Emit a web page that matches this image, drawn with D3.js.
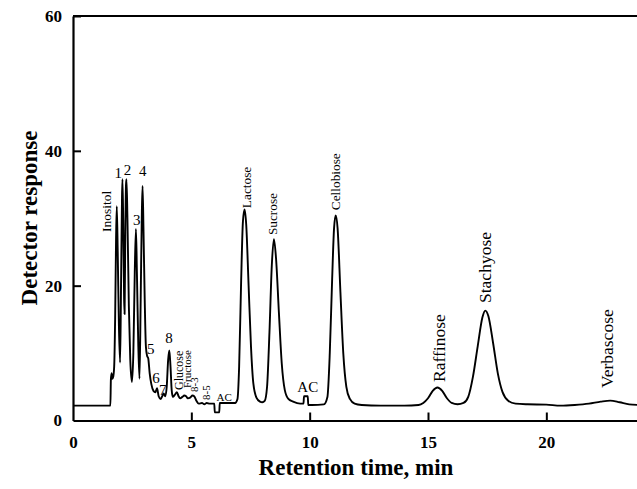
<!DOCTYPE html>
<html>
<head>
<meta charset="utf-8">
<script src="https://cdn.jsdelivr.net/npm/d3@7"></script>
<style>
  body { margin: 0; background: #fff; }
  svg text { font-family: "Liberation Serif", "Times New Roman", serif; fill: #000; }
</style>
</head>
<body>
<div id="chart"></div>
<script>
// Size of the drawing and the plot frame
const w = 637;
const h = 489;
const plotLeft = 73;
const plotTop = 16;
const plotBottom = 420.5;
const plotRight = 641; // the frame runs off the right edge of the picture

// Chromatogram trace: retention time (min) and detector response
const times = [
  0, 1.58, 1.6, 1.63, 1.66, 1.7, 1.74, 1.78, 1.82, 1.85, 1.89, 1.94, 1.99,
  2.03, 2.07, 2.09, 2.12, 2.16, 2.18, 2.21, 2.24, 2.26, 2.3, 2.36, 2.42, 2.49,
  2.55, 2.61, 2.66, 2.7, 2.76, 2.81, 2.86, 2.91, 2.94, 2.98, 3.03, 3.08, 3.13,
  3.18, 3.24, 3.31, 3.4, 3.48, 3.55, 3.62, 3.7, 3.77, 3.83, 3.9, 3.96, 4.02,
  4.07, 4.12, 4.17, 4.22, 4.3, 4.39, 4.46, 4.53, 4.62, 4.7, 4.78, 4.85, 4.95,
  5.05, 5.12, 5.22, 5.31, 5.45, 5.55, 5.65, 5.78, 5.95, 5.97, 5.99, 6.18, 6.2,
  6.4, 6.85, 6.95, 7.02, 7.1, 7.18, 7.25, 7.32, 7.42, 7.52, 7.62, 7.75, 7.9,
  8.0, 8.1, 8.2, 8.3, 8.4, 8.49, 8.58, 8.7, 8.82, 8.95, 9.1, 9.3, 9.6, 9.74,
  9.76, 9.92, 9.94, 10.1, 10.6, 10.75, 10.85, 10.95, 11.03, 11.1, 11.18, 11.3,
  11.42, 11.55, 11.7, 11.9, 12.2, 13, 14, 14.6, 14.8, 15.0, 15.2, 15.4, 15.6,
  15.8, 16.0, 16.25, 16.5, 16.7, 16.9, 17.1, 17.3, 17.42, 17.55, 17.75, 17.95,
  18.15, 18.4, 18.7, 19.2, 20, 20.6, 21.2, 21.8, 22.3, 22.7, 23.1, 23.5, 24
];
const response = [
  2.2, 2.2, 6.0, 7.0, 6.2, 6.5, 8, 15, 27, 31.8, 25, 14, 8.6,
  20, 33, 35.8, 30, 18, 15.8, 28, 35, 35.8, 30, 17, 9, 5.7,
  10, 22, 28.4, 22, 11, 6.2, 18, 31, 34.8, 28, 18, 11, 9.6,
  9.2, 7, 5.4, 4.4, 4.2, 4.8, 3.6, 3.2, 3.6, 4.0, 3.6, 5, 9,
  10.4, 8, 4.5, 3.5, 3.8, 4.2, 3.6, 3.3, 3.5, 3.7, 3.6, 3.3, 3.4,
  3.7, 3.6, 2.9, 2.5, 2.6, 2.4, 2.6, 2.5, 2.5, 2.5, 1.2, 1.2, 2.6,
  2.6, 2.6, 3.2, 8, 20, 29.5, 31.3, 29, 20, 11, 5.5, 3.4, 2.8,
  2.7, 2.9, 5, 13, 23, 26.9, 24, 16, 8.5, 4.5, 3.2, 2.8, 2.5, 2.5,
  3.6, 3.6, 2.3, 2.3, 2.4, 3.5, 10, 21, 28.5, 30.4, 28.5, 19,
  10, 5, 3.2, 2.5, 2.3, 2.2, 2.2, 2.3, 2.6, 3.3, 4.4, 4.9, 4.4,
  3.3, 2.6, 2.4, 2.6, 3.5, 6.5, 11, 15.3, 16.3, 15.5, 11.5, 7,
  4.2, 2.9, 2.5, 2.4, 2.35, 2.2, 2.3, 2.5, 2.8, 2.95, 2.7, 2.4, 2.3
];

// Axis ticks
const xTicks = [0, 5, 10, 15, 20];
const yTicks = [0, 20, 40, 60];

// Peak names written upright vs. turned on their side, placed at retention time / response
const uprightLabels = ["1", "2", "3", "4", "5", "6", "7", "8", "AC", "AC"];
const uprightTimes = [1.915, 2.30, 2.69, 2.95, 3.29, 3.51, 3.79, 4.06, 6.39, 9.92];
const uprightValues = [35.9, 36.4, 29.0, 36.2, 9.9, 5.5, 3.8, 11.45, 2.94, 4.27];

const sideLabels = ["Inositol", "Glucose", "Fructose", "8-3", "8-5", "Lactose",
  "Sucrose", "Cellobiose", "Raffinose", "Stachyose", "Verbascose"];
const sideTimes = [1.425, 4.47, 4.81, 5.13, 5.62, 7.34, 8.44, 11.08, 15.45, 17.42, 22.57];
const sideValues = [27.96, 4.52, 4.82, 4.23, 3.04, 31.5, 27.5, 31.2, 5.71, 17.43, 4.82];

const svg = d3.select("#chart").append("svg")
  .attr("width", w)
  .attr("height", h);

svg.append("rect").attr("width", w).attr("height", h).attr("fill", "#fff");

const xScale = d3.scaleLinear().domain([0, 24]).range([plotLeft, plotRight]);
const yScale = d3.scaleLinear().domain([0, 60]).range([plotBottom, plotTop]);

// Frame: top line plus the two axes
svg.append("line")
  .attr("x1", plotLeft).attr("x2", plotRight)
  .attr("y1", plotTop).attr("y2", plotTop)
  .attr("stroke", "#000").attr("stroke-width", 2);

const xAxis = d3.axisBottom(xScale)
  .tickValues(xTicks)
  .tickSizeInner(-8)
  .tickSizeOuter(0)
  .tickPadding(15);

const yAxis = d3.axisLeft(yScale)
  .tickValues(yTicks)
  .tickSizeInner(-8)
  .tickSizeOuter(0)
  .tickPadding(11);

const gx = svg.append("g")
  .attr("transform", `translate(0,${plotBottom})`)
  .call(xAxis);

const gy = svg.append("g")
  .attr("transform", `translate(${plotLeft},0)`)
  .call(yAxis);

[gx, gy].forEach(g => {
  g.select(".domain").attr("stroke-width", 2.2);
  g.selectAll(".tick line").attr("stroke-width", 2);
  g.selectAll(".tick text")
    .style("font-family", '"Liberation Serif", "Times New Roman", serif')
    .style("font-size", "17px")
    .style("font-weight", "bold");
});
// no tick mark on the corner
gx.selectAll(".tick").filter(d => d === 0).select("line").remove();
gy.selectAll(".tick").filter(d => d === 0).select("line").remove();

// The trace
const points = times.map((t, i) => [t, response[i]]);
const line = d3.line()
  .x(d => xScale(d[0]))
  .y(d => yScale(d[1]))
  .curve(d3.curveMonotoneX);

svg.append("path")
  .datum(points)
  .attr("d", line)
  .attr("fill", "none")
  .attr("stroke", "#000")
  .attr("stroke-width", 1.9)
  .attr("stroke-linejoin", "round");

// Upright peak labels
const uprightSizes = uprightLabels.map((s, i) => (i === 8 ? 11 : 15));
svg.selectAll(".up")
  .data(uprightLabels)
  .enter()
  .append("text")
  .attr("class", "up")
  .attr("x", (d, i) => xScale(uprightTimes[i]))
  .attr("y", (d, i) => yScale(uprightValues[i]))
  .attr("text-anchor", "middle")
  .style("font-size", (d, i) => uprightSizes[i] + "px")
  .text(d => d);

// Peak labels turned on their side
const sideSizes = [13.5, 12, 11, 11, 11, 13.3, 13.3, 13.3, 17.5, 17.5, 17.5];
svg.selectAll(".side")
  .data(sideLabels)
  .enter()
  .append("text")
  .attr("class", "side")
  .attr("transform", (d, i) =>
    `translate(${xScale(sideTimes[i])},${yScale(sideValues[i])}) rotate(-90)`)
  .attr("dy", "0.35em")
  .attr("text-anchor", "start")
  .style("font-size", (d, i) => sideSizes[i] + "px")
  .text(d => d);

// Axis titles
svg.append("text")
  .attr("transform", "translate(29,218) rotate(-90)")
  .attr("dy", "0.35em")
  .attr("text-anchor", "middle")
  .style("font-size", "23px")
  .style("font-weight", "bold")
  .text("Detector response");

svg.append("text")
  .attr("x", 356)
  .attr("y", 475)
  .attr("text-anchor", "middle")
  .style("font-size", "23px")
  .style("font-weight", "bold")
  .text("Retention time, min");
</script>
</body>
</html>
